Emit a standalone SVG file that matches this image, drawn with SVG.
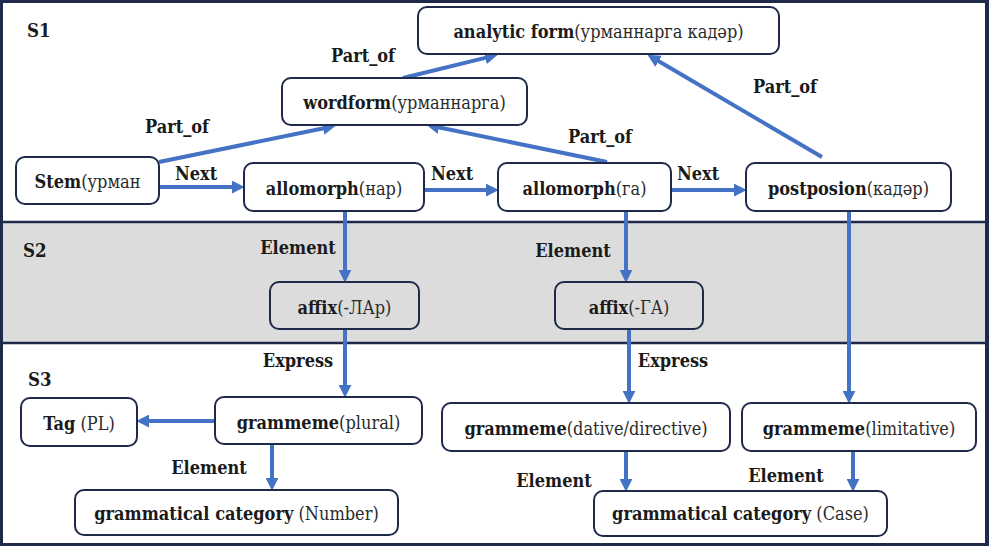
<svg xmlns="http://www.w3.org/2000/svg" width="989" height="546" viewBox="0 0 989 546">
<style>
text{font-family:"DejaVu Serif Condensed","DejaVu Serif",serif;font-stretch:condensed}
.node rect{fill:#fff;stroke:#1f2a4a;stroke-width:2}
.node.gray rect{fill:#dcdcdc}
.node text,.lbl{font-size:18px;fill:#1a1a1a;text-anchor:middle}
.node text tspan.b,.lbl{font-weight:bold}
.node text tspan.r{font-weight:normal;fill:#2b2b2b}
.sec{font-size:18.5px;font-weight:bold;fill:#1a1a1a}
#connectors line{stroke:#4472c4;stroke-width:4;marker-end:url(#ah)}
</style>
<defs>
<marker id="ah" viewBox="0 0 12 12" markerWidth="13" markerHeight="13" refX="3" refY="6" orient="auto" markerUnits="userSpaceOnUse">
<path d="M0,0 L12,6 L0,12 z" fill="#4472c4"/>
</marker>
</defs>
<rect x="0" y="0" width="989" height="546" fill="#1f2a4a"/>
<rect x="3" y="3" width="982" height="540" fill="#fff"/>
<rect x="3" y="222" width="982" height="121" fill="#dcdcdc"/>
<line x1="3" y1="222" x2="985" y2="222" stroke="#1f2a4a" stroke-width="2.5"/>
<line x1="3" y1="343" x2="985" y2="343" stroke="#1f2a4a" stroke-width="2.5"/>
<text class="sec" x="27" y="37">S1</text>
<text class="sec" x="23" y="257">S2</text>
<text class="sec" x="28" y="386">S3</text>

<g id="connectors">
<line x1="160" y1="187" x2="235" y2="187"/>
<line x1="424" y1="190" x2="489" y2="190"/>
<line x1="671" y1="190" x2="737" y2="190"/>
<line x1="159" y1="162" x2="326.2" y2="127.8"/>
<line x1="403" y1="78" x2="488.3" y2="57.1"/>
<line x1="607" y1="162" x2="435.8" y2="126.8"/>
<line x1="822" y1="157" x2="655.8" y2="59.6"/>
<line x1="345" y1="211" x2="345" y2="273"/>
<line x1="626" y1="211" x2="626" y2="273"/>
<line x1="849" y1="211" x2="849" y2="394"/>
<line x1="345" y1="329" x2="345" y2="388"/>
<line x1="629" y1="329" x2="629" y2="394"/>
<line x1="215" y1="421" x2="146" y2="421"/>
<line x1="272" y1="444" x2="272" y2="481"/>
<line x1="626" y1="451" x2="626" y2="482"/>
<line x1="853" y1="451" x2="853" y2="482"/>
<text class="lbl" x="363" y="62">Part_of</text>
<text class="lbl" x="177" y="133">Part_of</text>
<text class="lbl" x="600" y="143">Part_of</text>
<text class="lbl" x="785" y="93">Part_of</text>
<text class="lbl" x="196" y="180">Next</text>
<text class="lbl" x="452" y="180">Next</text>
<text class="lbl" x="698" y="180">Next</text>
<text class="lbl" x="298" y="254">Element</text>
<text class="lbl" x="573" y="257">Element</text>
<text class="lbl" x="298" y="367">Express</text>
<text class="lbl" x="673" y="367">Express</text>
<text class="lbl" x="209" y="474">Element</text>
<text class="lbl" x="554" y="487">Element</text>
<text class="lbl" x="786" y="482">Element</text>
</g>

<g id="analytic" class="node"><rect x="418" y="7" width="361" height="47" rx="9"/><text x="598.5" y="38"><tspan class="b">analytic form</tspan><tspan class="r">(урманнарга кадәр)</tspan></text></g>
<g id="wordform" class="node"><rect x="282" y="78" width="245" height="47" rx="9"/><text x="404.5" y="109"><tspan class="b">wordform</tspan><tspan class="r">(урманнарга)</tspan></text></g>
<g id="stem" class="node"><rect x="16" y="157" width="143" height="47" rx="9"/><text x="87.5" y="187.5"><tspan class="b">Stem</tspan><tspan class="r">(урман</tspan></text></g>
<g id="allo1" class="node"><rect x="244" y="163" width="180" height="48" rx="9"/><text x="334" y="194.5"><tspan class="b">allomorph</tspan><tspan class="r">(нар)</tspan></text></g>
<g id="allo2" class="node"><rect x="498" y="163" width="173" height="48" rx="9"/><text x="584.5" y="194.5"><tspan class="b">allomorph</tspan><tspan class="r">(га)</tspan></text></g>
<g id="postp" class="node"><rect x="746" y="163" width="205" height="48" rx="9"/><text x="848.5" y="194.5"><tspan class="b">postposion</tspan><tspan class="r">(кадәр)</tspan></text></g>
<g id="affix1" class="node gray"><rect x="270" y="282" width="149" height="47" rx="9"/><text x="344.5" y="314"><tspan class="b">affix</tspan><tspan class="r">(-ЛАр)</tspan></text></g>
<g id="affix2" class="node gray"><rect x="555" y="282" width="148" height="47" rx="9"/><text x="629" y="314"><tspan class="b">affix</tspan><tspan class="r">(-ГА)</tspan></text></g>
<g id="tag" class="node"><rect x="21" y="398" width="116" height="48" rx="9"/><text x="79" y="429.5"><tspan class="b">Tag</tspan><tspan class="r"> (PL)</tspan></text></g>
<g id="plural" class="node"><rect x="215" y="397" width="207" height="47" rx="9"/><text x="318.5" y="428.5"><tspan class="b">grammeme</tspan><tspan class="r">(plural)</tspan></text></g>
<g id="dative" class="node"><rect x="442" y="403" width="288" height="48" rx="9"/><text x="586" y="435"><tspan class="b">grammeme</tspan><tspan class="r">(dative/directive)</tspan></text></g>
<g id="limitative" class="node"><rect x="742" y="403" width="234" height="48" rx="9"/><text x="859" y="435"><tspan class="b">grammeme</tspan><tspan class="r">(limitative)</tspan></text></g>
<g id="number" class="node"><rect x="75" y="490" width="323" height="45" rx="9"/><text x="236.5" y="519.5"><tspan class="b">grammatical category</tspan><tspan class="r"> (Number)</tspan></text></g>
<g id="case" class="node"><rect x="594" y="491" width="293" height="45" rx="9"/><text x="740.5" y="520"><tspan class="b">grammatical category</tspan><tspan class="r"> (Case)</tspan></text></g>
</svg>
